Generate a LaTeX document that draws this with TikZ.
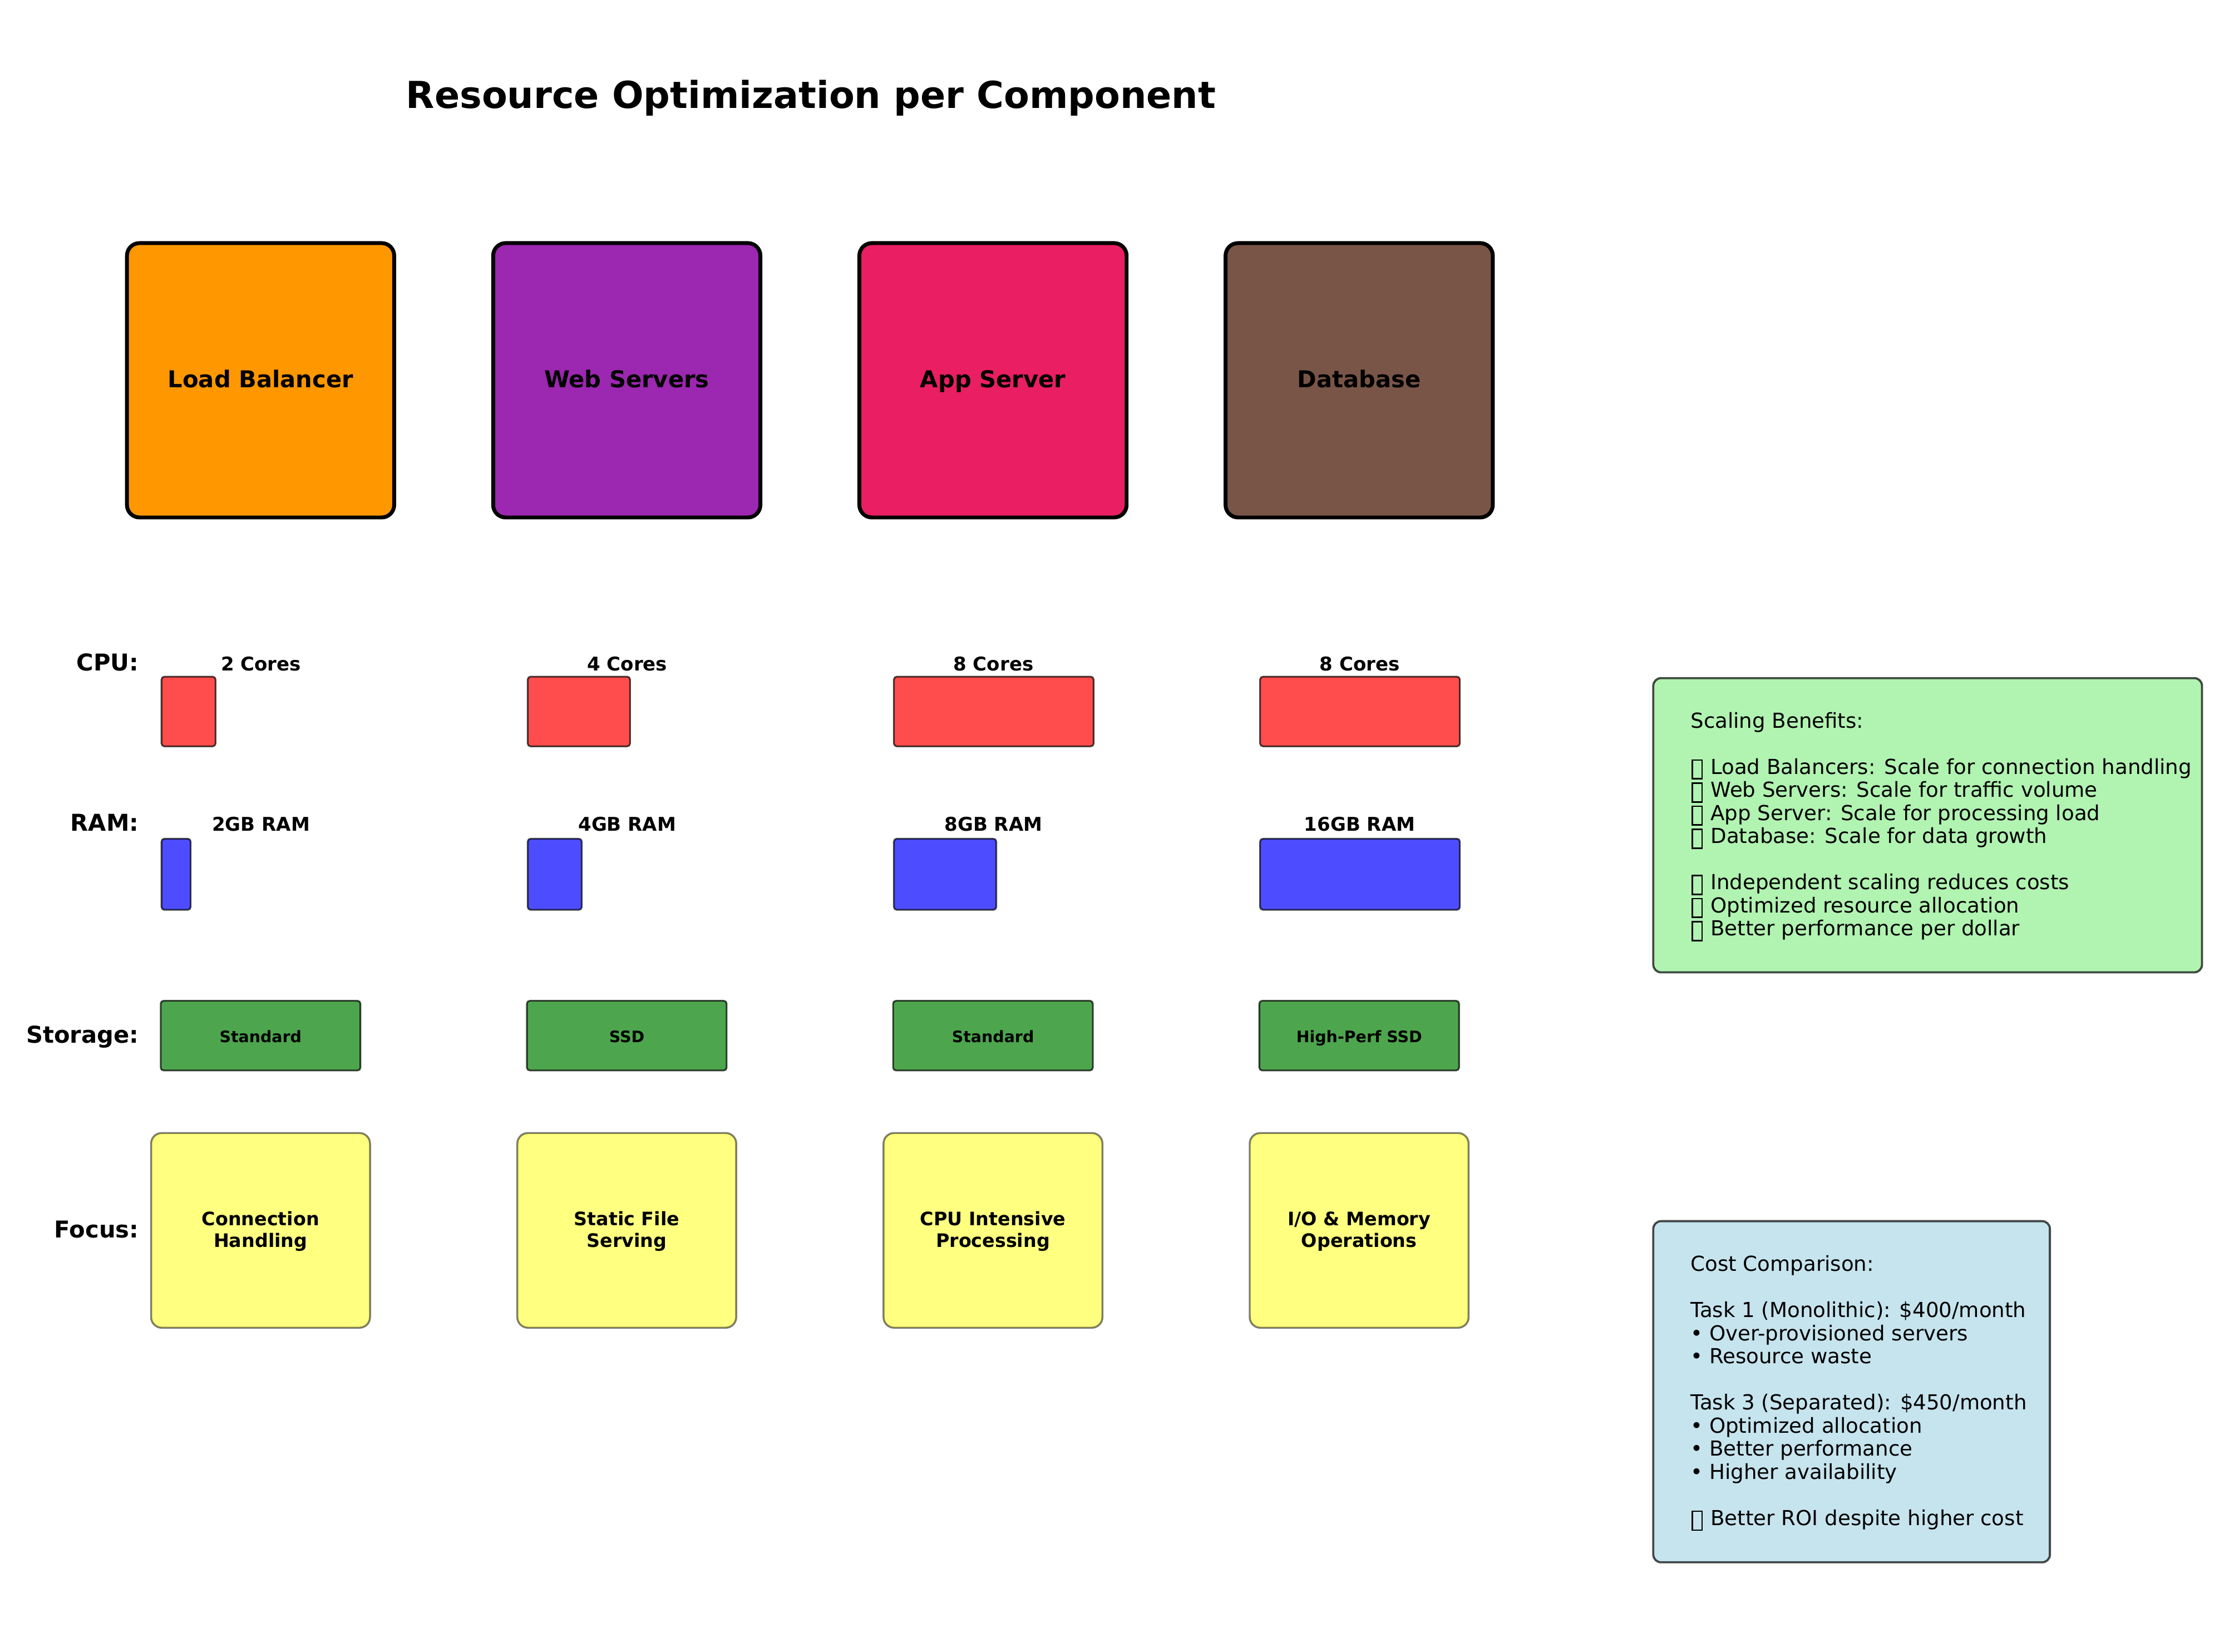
\documentclass[tikz,border=0pt]{standalone}
\usepackage{fontspec}
\setmainfont{DejaVu Sans}
\definecolor{cLB}{HTML}{FF9800}
\definecolor{cWS}{HTML}{9C27B0}
\definecolor{cAS}{HTML}{E91E63}
\definecolor{cDB}{HTML}{795548}
\definecolor{cCPU}{HTML}{FF4D4D}
\definecolor{cRAM}{HTML}{4D4DFF}
\definecolor{cSTO}{HTML}{4DA64D}
\definecolor{cFOC}{HTML}{FFFF80}
\definecolor{cSCL}{HTML}{B1F3B1}
\definecolor{cCST}{HTML}{C6E4EE}
\newcommand\U{0.73579pt}
\newcommand\tofu{\kern0.05em\raisebox{-0.2em}{\setlength{\fboxsep}{0pt}\setlength{\fboxrule}{0.07em}\fbox{\rule{0pt}{0.84em}\hspace{0.4em}}}\kern0.06em}
\newcommand\fst{\rule[-0.24em]{0pt}{1em}}
\newcommand\ftop{\rule[-0.24em]{0pt}{1.15em}}
\tikzset{
  lbl/.style={inner sep=0pt, text height=0.76em, text depth=0em},
  comp/.style={draw=black, line width=2pt, rounded corners=6.5pt, inner sep=0pt,
    minimum width=188*\U, minimum height=193*\U,
    font=\fontsize{12}{14}\selectfont\bfseries, text height=0.76em, text depth=0em},
  rowlab/.style={lbl, anchor=east, font=\fontsize{12}{14}\selectfont\bfseries},
  barlab/.style={lbl, font=\fontsize{9.8}{12}\selectfont\bfseries},
  bar/.style={draw=black, draw opacity=0.7, line width=0.9pt, rounded corners=1.5pt,
    inner sep=0pt, anchor=west},
  cpubar/.style={bar, fill=cCPU, minimum height=49*\U},
  rambar/.style={bar, fill=cRAM, minimum height=50*\U},
  stobox/.style={draw=black, draw opacity=0.7, line width=0.9pt, rounded corners=1.5pt,
    fill=cSTO, inner sep=0pt, minimum width=140.5*\U, minimum height=49*\U,
    font=\fontsize{8.2}{10}\selectfont\bfseries, text height=0.76em, text depth=0.06em},
  focbox/.style={draw=black, draw opacity=0.5, line width=1pt, rounded corners=5.5pt,
    fill=cFOC, inner sep=0pt, minimum width=154*\U, minimum height=137*\U, align=center,
    font=\fontsize{9.6}{11.2}\selectfont\bfseries},
  infobox/.style={draw=black, draw opacity=0.7, line width=1.1pt, rounded corners=4pt,
    inner sep=0pt},
  infotext/.style={inner sep=0pt, anchor=west, align=left,
    font=\fontsize{10.7}{11.95}\selectfont},
}
\begin{document}
\begin{tikzpicture}[x=0.73579pt, y=-0.73579pt]
\useasboundingbox (0,0) rectangle (1568,1162);
\fill[white] (0,0) rectangle (1568,1162);

% title
\node[lbl, font=\fontsize{19.2}{23}\selectfont\bfseries] (title) at (570.5,70.8) {Resource Optimization per Component};

% component boxes
\node[comp, fill=cLB] (lb) at (183.3,267.5) {Load Balancer};
\node[comp, fill=cWS] (ws) at (440.9,267.5) {Web Servers};
\node[comp, fill=cAS] (as) at (698.5,267.5) {App Server};
\node[comp, fill=cDB] (db) at (956.1,267.5) {Database};

% row labels
\node[rowlab] (cpulab) at (97.8,466.5) {CPU:};
\node[rowlab] (ramlab) at (97.8,579.5) {RAM:};
\node[rowlab] (stolab) at (97.8,728.5) {Storage:};
\node[rowlab] (foclab) at (97.8,865.5) {Focus:};

% CPU
\node[barlab] (cpul1) at (183.6,466.5) {2 Cores};
\node[barlab] (cpul2) at (441.2,466.5) {4 Cores};
\node[barlab] (cpul3) at (698.8,466.5) {8 Cores};
\node[barlab] (cpul4) at (956.4,466.5) {8 Cores};
\node[cpubar, minimum width=38*\U] (cpu1) at (113,500.5) {};
\node[cpubar, minimum width=72*\U] (cpu2) at (370.6,500.5) {};
\node[cpubar, minimum width=140.5*\U] (cpu3) at (628.2,500.5) {};
\node[cpubar, minimum width=140.5*\U] (cpu4) at (885.8,500.5) {};

% RAM
\node[barlab] (raml1) at (183.6,579.5) {2GB RAM};
\node[barlab] (raml2) at (441.2,579.5) {4GB RAM};
\node[barlab] (raml3) at (698.8,579.5) {8GB RAM};
\node[barlab] (raml4) at (956.4,579.5) {16GB RAM};
\node[rambar, minimum width=20.5*\U] (ram1) at (113,615) {};
\node[rambar, minimum width=38*\U] (ram2) at (370.6,615) {};
\node[rambar, minimum width=72*\U] (ram3) at (628.2,615) {};
\node[rambar, minimum width=140.5*\U] (ram4) at (885.8,615) {};

% Storage
\node[stobox] (sto1) at (183.3,728.5) {Standard};
\node[stobox] (sto2) at (440.9,728.5) {SSD};
\node[stobox] (sto3) at (698.5,728.5) {Standard};
\node[stobox] (sto4) at (956.1,728.5) {High-Perf SSD};

% Focus
\node[focbox] (foc1) at (183.3,865.5) {\ftop Connection\\Handling\fst};
\node[focbox] (foc2) at (440.9,865.5) {\ftop Static File\\Serving\fst};
\node[focbox] (foc3) at (698.5,865.5) {\ftop CPU Intensive\\Processing\fst};
\node[focbox] (foc4) at (956.1,865.5) {\ftop I/O \& Memory\\Operations\fst};

% Scaling benefits
\node[infobox, fill=cSCL, minimum width=386*\U, minimum height=207*\U] (scale) at (1356,580.5) {};
\node[infotext] (scaletext) at (1189,581.5) {\fst Scaling Benefits:\\
\mbox{}\\
\tofu\ Load Balancers: Scale for connection handling\\
\tofu\ Web Servers: Scale for traffic volume\\
\tofu\ App Server: Scale for processing load\\
\tofu\ Database: Scale for data growth\\
\mbox{}\\
\tofu\ Independent scaling reduces costs\\
\tofu\ Optimized resource allocation\\
\tofu\ Better performance per dollar\fst};

% Cost comparison
\node[infobox, fill=cCST, minimum width=279*\U, minimum height=240*\U] (cost) at (1302.5,979) {};
\node[infotext] (costtext) at (1189,980) {\fst Cost Comparison:\\
\mbox{}\\
Task 1 (Monolithic): \$400/month\\
• Over-provisioned servers\\
• Resource waste\\
\mbox{}\\
Task 3 (Separated): \$450/month\\
• Optimized allocation\\
• Better performance\\
• Higher availability\\
\mbox{}\\
\tofu\ Better ROI despite higher cost\fst};
\end{tikzpicture}
\end{document}
